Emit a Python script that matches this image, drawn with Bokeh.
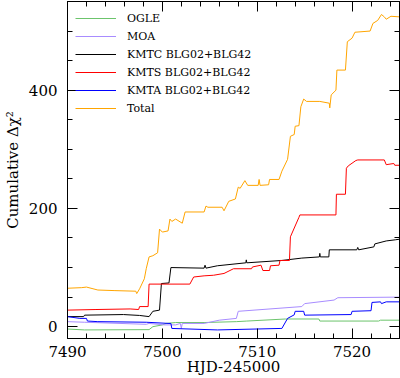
from bokeh.plotting import figure
from bokeh.models import Range1d, LinearAxis, FixedTicker, Legend
from bokeh.embed import file_html
from bokeh.resources import INLINE

# ---- data ----
ogle_t = [7490, 7491.8, 7498.6, 7499.0, 7500.0, 7500.4, 7501.4, 7504.4, 7507.8, 7508.9, 7513.0, 7516.5, 7516.6, 7522.8, 7523.0, 7525]
ogle_y = [-4, -5.5, -5, 0, 3, 5.5, 7, 7, 8.5, 9.5, 13, 13, 9.5, 9.5, 11, 11]

moa_t = [7490, 7491.8, 7498.3, 7498.6, 7500.2, 7501.4, 7501.9, 7502.0, 7502.1, 7504.4, 7506.0, 7507.8, 7508.0, 7514.7, 7515.0, 7518.1, 7518.5, 7525]
moa_y = [8.5, 7.5, 4, 5.5, 3, 3, 5.5, -3, 5.5, 5.5, 11, 14, 26, 34, 39, 45, 49, 50]

kmtc_t = [7490, 7491.7, 7491.8, 7495.9, 7497.6, 7498.6, 7499.0, 7499.7, 7499.9, 7500.7, 7500.9, 7504.4, 7504.5, 7504.6, 7505.8, 7508.8, 7508.85, 7508.9, 7512.6, 7514.7, 7516.55, 7516.6, 7516.65, 7517.55, 7517.6, 7520.5, 7520.6, 7520.7, 7522.3, 7522.4, 7523.6, 7524.6, 7525]
kmtc_y = [17, 17, 19.5, 20.5, 19, 17, 26, 28, 73, 74, 100, 99, 104, 99, 103, 108, 113, 108, 112, 116, 118, 124, 118, 118, 130, 130, 134, 130, 135, 140, 145, 147, 148]

kmts_t = [7490, 7493, 7496.6, 7497.5, 7497.6, 7498.5, 7498.6, 7502.9, 7503.3, 7504.4, 7505.4, 7506.5, 7507.5, 7509.4, 7509.5, 7510.4, 7510.6, 7511.3, 7511.4, 7512.3, 7512.4, 7513.4, 7513.5, 7514.4, 7514.5, 7518.3, 7518.35, 7519.3, 7519.4, 7519.6, 7520.4, 7520.6, 7523.4, 7523.6, 7524.4, 7524.5, 7525]
kmts_y = [28, 29, 30, 29, 34, 34, 72, 72, 84, 86, 87, 90, 98, 98, 101, 104, 95, 95, 103, 104, 112, 112, 152, 185, 189, 189, 224, 224, 268, 272, 281, 282, 282, 274, 276, 273, 273]

kmta_t = [7490, 7491.3, 7492.0, 7492.1, 7493.2, 7498.3, 7500.7, 7500.9, 7501.0, 7505.8, 7512.5, 7512.6, 7513.2, 7513.9, 7514.0, 7514.9, 7515.0, 7519.9, 7520.0, 7522.0, 7522.1, 7523.0, 7523.1, 7523.6, 7525]
kmta_y = [17, 14, 14, 9.5, 8.5, 7.5, 5.5, 5.5, -3, -5.5, -3, -3, 14, 20, 26, 26, 19.5, 20.5, 26, 27, 41, 42, 39, 42, 42]

total_t = [7490, 7491.5, 7492, 7493.2, 7495, 7497.2, 7497.3, 7497.6, 7498.1, 7498.3, 7498.6, 7499, 7499.5, 7499.7, 7500, 7500.6, 7500.8, 7501, 7501.4, 7502.1, 7502.4, 7504.4, 7504.6, 7504.8, 7506.3, 7506.5, 7507, 7507.7, 7508, 7508.2, 7508.7, 7509, 7510.1, 7510.2, 7510.3, 7511.2, 7511.3, 7512.3, 7512.6, 7513.2, 7513.5, 7513.9, 7514.0, 7514.4, 7514.6, 7514.9, 7515.2, 7516.6, 7517.6, 7517.65, 7517.8, 7518.3, 7518.4, 7519.3, 7519.5, 7520, 7520.3, 7521.9, 7522.2, 7522.7, 7523.1, 7523.4, 7523.6, 7524.1, 7525]
total_y = [65, 66, 67, 62, 61, 60, 56, 64, 81, 98, 118, 120, 125, 165, 160, 162, 182, 178, 182, 175, 194, 194, 204, 202, 202, 196, 212, 216, 236, 234, 247, 239, 239, 249, 239, 240, 249, 249, 263, 283, 322, 325, 339, 340, 372, 385, 381, 381, 378, 370, 392, 400, 434, 434, 482, 488, 498, 500, 513, 518, 528, 524, 520, 525, 524]

names = ["OGLE", "MOA", "KMTC BLG02+BLG42", "KMTS BLG02+BLG42", "KMTA BLG02+BLG42", "Total"]
times = [ogle_t, moa_t, kmtc_t, kmts_t, kmta_t, total_t]
values = [ogle_y, moa_y, kmtc_y, kmts_y, kmta_y, total_y]
colors = ["#6cc46c", "#a88cff", "#000000", "#ff0000", "#0000ff", "#ffa500"]

# tick positions
x_major_ticks = [7490, 7500, 7510, 7520]
x_minor_ticks = [7492, 7494, 7496, 7498, 7502, 7504, 7506, 7508, 7512, 7514, 7516, 7518, 7522, 7524]
y_major_ticks = [0, 200, 400]
y_minor_ticks = [50, 100, 150, 250, 300, 350, 450, 500]

x_range = (7490, 7525)
y_range = (-20, 550)

FONT = "DejaVu Serif"

p = figure(width=400, height=378, output_backend="svg", toolbar_location=None,
           x_range=Range1d(*x_range), y_range=Range1d(*y_range),
           min_border_left=59, min_border_right=1, min_border_top=1, min_border_bottom=38)
p.grid.visible = False
p.outline_line_color = "black"
p.background_fill_color = "white"
p.border_fill_color = "white"

items = []
for name, t, y, c in zip(names, times, values, colors):
    r = p.line(t, y, line_color=c, line_width=1)
    items.append((name, [r]))

def style(ax):
    ax.axis_line_color = "black"
    ax.major_tick_in = 10
    ax.major_tick_out = 0
    ax.minor_tick_in = 5
    ax.minor_tick_out = 0
    ax.major_tick_line_color = "black"
    ax.minor_tick_line_color = "black"
    ax.major_label_text_font = FONT
    ax.major_label_text_font_size = "15px"
    ax.major_label_text_color = "black"
    ax.axis_label_text_font = FONT
    ax.axis_label_text_font_size = "15px"
    ax.axis_label_text_font_style = "normal"
    ax.axis_label_text_color = "black"

p.xaxis.ticker = FixedTicker(ticks=x_major_ticks, minor_ticks=x_minor_ticks)
p.yaxis.ticker = FixedTicker(ticks=y_major_ticks, minor_ticks=y_minor_ticks)
style(p.xaxis[0])
style(p.yaxis[0])
p.xaxis.axis_label = "HJD-245000"
p.yaxis.axis_label = "Cumulative Δχ²"
p.xaxis.major_label_standoff = 7
p.xaxis.axis_label_standoff = -2
p.yaxis.major_label_standoff = 10
p.yaxis.axis_label_standoff = 4

# unlabeled tick-only axes on top and right (majors and minors as separate axes)
def tick_axis(ticks, length):
    ax = LinearAxis(ticker=FixedTicker(ticks=[], minor_ticks=ticks))
    ax.axis_line_color = "black"
    ax.major_tick_in = 0
    ax.major_tick_out = 0
    ax.minor_tick_in = length
    ax.minor_tick_out = 0
    ax.minor_tick_line_color = "black"
    ax.major_label_standoff = 0
    ax.axis_label_standoff = 0
    return ax

p.add_layout(tick_axis(x_minor_ticks, 5), "above")
p.add_layout(tick_axis(x_major_ticks, 10), "above")
p.add_layout(tick_axis(y_minor_ticks, 5), "right")
p.add_layout(tick_axis(y_major_ticks, 10), "right")

legend = Legend(items=items, location="top_left", margin=8, padding=9,
                border_line_color=None, background_fill_color="white", background_fill_alpha=0,
                glyph_width=41, glyph_height=18, label_height=18, spacing=0,
                label_standoff=11, label_text_font=FONT, label_text_font_size="11px",
                label_text_color="black", label_text_baseline="middle")
p.add_layout(legend, "center")

open("out.html", "w").write(file_html(p, INLINE))
